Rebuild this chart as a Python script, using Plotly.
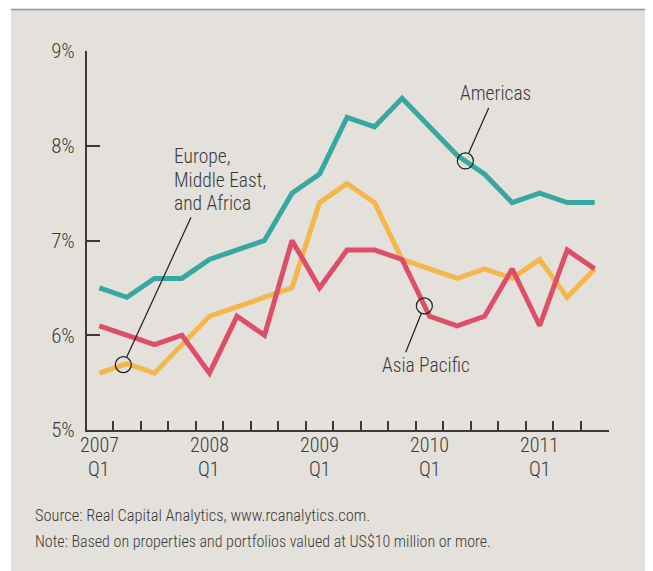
import plotly.graph_objects as go

# ---------------- data ----------------
quarters = ["2007 Q1", "2007 Q2", "2007 Q3", "2007 Q4",
            "2008 Q1", "2008 Q2", "2008 Q3", "2008 Q4",
            "2009 Q1", "2009 Q2", "2009 Q3", "2009 Q4",
            "2010 Q1", "2010 Q2", "2010 Q3", "2010 Q4",
            "2011 Q1", "2011 Q2", "2011 Q3"]
americas = [6.5, 6.4, 6.6, 6.6, 6.8, 6.9, 7.0, 7.5, 7.7, 8.3, 8.2, 8.5, 8.2, 7.9, 7.7, 7.4, 7.5, 7.4, 7.4]
europe   = [5.6, 5.7, 5.6, 5.9, 6.2, 6.3, 6.4, 6.5, 7.4, 7.6, 7.4, 6.8, 6.7, 6.6, 6.7, 6.6, 6.8, 6.4, 6.7]
asia     = [6.1, 6.0, 5.9, 6.0, 5.6, 6.2, 6.0, 7.0, 6.5, 6.9, 6.9, 6.8, 6.2, 6.1, 6.2, 6.7, 6.1, 6.9, 6.7]

year_labels = ["2007", "2008", "2009", "2010", "2011"]
year_sublabel = "Q1"
y_ticks = [5, 6, 7, 8, 9]
y_tick_labels = ["5%", "6%", "7%", "8%", "9%"]

# callout points on lines (quarter index, value)
callout_names = ["Europe", "Americas", "Asia Pacific"]
callout_x = [0.87, 13.3, 11.81]
callout_y = [5.69, 7.84, 6.31]

europe_label_lines = ["Europe,", "Middle East,", "and Africa"]
source_text = "Source: Real Capital Analytics, www.rcanalytics.com."
note_text = "Note: Based on properties and portfolios valued at US$10 million or more."

# ---------------- styling ----------------
OFF = 8  # page body margin
W, H = 653 - OFF, 571 - OFF
ML, MR, MT = 87 - OFF, 44, 51 - OFF
MB = H - (430 - OFF)
PW, PH = W - ML - MR, H - MT - MB
FONT = "Roboto Condensed, Liberation Sans Narrow, DejaVu Sans Condensed, sans-serif"
TXT = "#3a3a3a"
AX = "#3a3a3a"
BG = "#E4E1DC"
C_AM, C_EU, C_AP = "#36A8A1", "#F4B74B", "#DD4F69"
LBL = 19.5


def px_x(p):
    return (p - OFF - ML) / PW


def px_y(p):
    return (H - MB - (p - OFF)) / PH


x_idx = list(range(len(quarters)))
year_pos = [i for i, q in enumerate(quarters) if q.endswith("Q1")]

fig = go.Figure()
for name, vals, col in [("Europe, Middle East, and Africa", europe, C_EU),
                        ("Asia Pacific", asia, C_AP),
                        ("Americas", americas, C_AM)]:
    fig.add_trace(go.Scatter(x=x_idx, y=vals, mode="lines", name=name,
                             line=dict(color=col, width=5), hoverinfo="skip"))

shapes = []
# background panel
shapes.append(dict(type="rect", xref="paper", yref="paper", layer="below",
                   x0=px_x(11), x1=px_x(653), y0=px_y(571), y1=px_y(9),
                   fillcolor=BG, line=dict(width=0)))
shapes.append(dict(type="line", xref="paper", yref="paper", layer="below",
                   x0=px_x(11), x1=px_x(653), y0=px_y(9.5), y1=px_y(9.5),
                   line=dict(color="#9c958f", width=1.5)))

# callout circles and leader lines (pixel offsets from callout point, y up)
leader = {"Europe": (3.3, 7.3, 67.7, 147.3),
          "Americas": (3.2, 7.3, 23.3, 53.0),
          "Asia Pacific": (-3.0, -7.4, -18.6, -46.4)}
for nm, cx, cy in zip(callout_names, callout_x, callout_y):
    shapes.append(dict(type="circle", xref="x", yref="y", xsizemode="pixel", ysizemode="pixel",
                       xanchor=cx, yanchor=cy, x0=-8, x1=8, y0=-8, y1=8,
                       line=dict(color="#1e1e1e", width=1.2)))
    a, b, c, d = leader[nm]
    shapes.append(dict(type="line", xref="x", yref="y", xsizemode="pixel", ysizemode="pixel",
                       xanchor=cx, yanchor=cy, x0=a, y0=b, x1=c, y1=d,
                       line=dict(color="#1e1e1e", width=1.2)))

ann = []
ann.append(dict(x=14.41, y=8.556, xref="x", yref="y", text="Americas", showarrow=False,
                xanchor="center", yanchor="middle", font=dict(size=LBL, color=TXT)))
ann.append(dict(x=11.86, y=5.684, xref="x", yref="y", text="Asia Pacific", showarrow=False,
                xanchor="center", yanchor="middle", font=dict(size=LBL, color=TXT)))
for k, line in enumerate(europe_label_lines):
    ann.append(dict(x=2.74, y=7.884 - k * 0.247, xref="x", yref="y", text=line, showarrow=False,
                    xanchor="left", yanchor="middle", xshift=-3, font=dict(size=LBL, color=TXT)))
for p, yl in zip(year_pos, year_labels):
    ann.append(dict(x=p, y=px_y(444.5), xref="x", yref="paper", text=yl, showarrow=False,
                    xanchor="center", yanchor="middle", font=dict(size=20, color=TXT)))
    ann.append(dict(x=p, y=px_y(468.5), xref="x", yref="paper", text=year_sublabel, showarrow=False,
                    xanchor="center", yanchor="middle", font=dict(size=20, color=TXT)))
ann.append(dict(x=px_x(33), y=px_y(515), xref="paper", yref="paper", text=source_text,
                showarrow=False, xanchor="left", yanchor="middle", font=dict(size=16.4, color=TXT)))
ann.append(dict(x=px_x(33), y=px_y(541), xref="paper", yref="paper", text=note_text,
                showarrow=False, xanchor="left", yanchor="middle", font=dict(size=16, color=TXT)))

fig.update_layout(
    width=W, height=H, margin=dict(l=ML, r=MR, t=MT, b=MB, pad=0),
    paper_bgcolor="white", plot_bgcolor="rgba(0,0,0,0)",
    font=dict(family=FONT, size=21, color=TXT, weight=300),
    showlegend=False, shapes=shapes, annotations=ann,
    xaxis=dict(range=[-0.45, 18.52], showgrid=False, zeroline=False,
               showline=True, linecolor=AX, linewidth=2,
               tickvals=[i + 0.5 for i in x_idx], ticks="inside", showticklabels=False,
               ticklen=9, tickwidth=1.8, tickcolor=AX,
               fixedrange=True),
    yaxis=dict(range=[5, 9], showgrid=False, zeroline=False,
               showline=True, linecolor=AX, linewidth=2,
               tickvals=y_ticks, ticktext=y_tick_labels, ticks="inside",
               ticklen=13, tickwidth=1.8, tickcolor=AX,
               tickfont=dict(size=21, color=TXT, weight=300), ticklabelstandoff=6,
               fixedrange=True),
)

fig.write_html("out.html")
